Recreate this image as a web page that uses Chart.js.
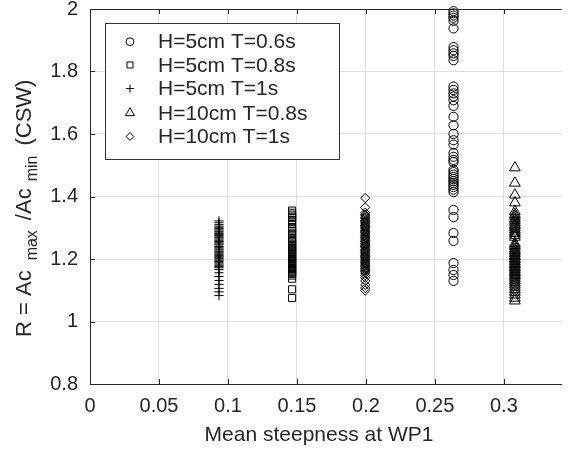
<!DOCTYPE html>
<html><head><meta charset="utf-8">
<script src="https://cdn.jsdelivr.net/npm/chart.js@4/dist/chart.umd.min.js"></script>
<style>html,body{margin:0;padding:0;background:#fff;}#wrap{width:569px;height:450px;}</style>
</head><body><div id="wrap"><canvas id="c" width="569" height="450"></canvas></div>
<script>
const seriesNames = ["H=5cm T=0.6s","H=5cm T=0.8s","H=5cm T=1s","H=10cm T=0.8s","H=10cm T=1s"];
const seriesX = [0.2635, 0.1465, 0.0935, 0.308, 0.1995];
const circlesR = [1.993,1.986,1.979,1.972,1.962,1.938,1.878,1.868,1.858,1.85,1.836,1.752,1.741,1.73,1.72,1.708,1.69,1.655,1.628,1.6,1.58,1.566,1.539,1.527,1.517,1.51,1.485,1.478,1.47,1.463,1.456,1.449,1.443,1.437,1.43,1.422,1.414,1.357,1.334,1.283,1.258,1.187,1.165,1.149,1.13];
const squaresR = [1.355,1.348,1.342,1.336,1.331,1.325,1.32,1.312,1.3,1.295,1.29,1.284,1.279,1.268,1.263,1.258,1.253,1.249,1.244,1.24,1.236,1.231,1.228,1.224,1.22,1.216,1.211,1.208,1.204,1.2,1.196,1.191,1.188,1.184,1.18,1.176,1.171,1.168,1.164,1.16,1.156,1.152,1.147,1.137,1.103,1.075];
const plusR = [1.322,1.316,1.31,1.305,1.3,1.297,1.293,1.289,1.286,1.282,1.279,1.275,1.271,1.268,1.264,1.26,1.256,1.252,1.248,1.245,1.24,1.236,1.232,1.229,1.225,1.222,1.219,1.215,1.212,1.209,1.206,1.203,1.2,1.196,1.192,1.188,1.184,1.18,1.176,1.172,1.166,1.156,1.144,1.131,1.119,1.106,1.095,1.083];
const trianglesR = [1.492,1.443,1.405,1.38,1.352,1.343,1.337,1.33,1.324,1.318,1.311,1.306,1.3,1.294,1.287,1.282,1.276,1.27,1.25,1.244,1.239,1.232,1.227,1.222,1.217,1.211,1.207,1.202,1.197,1.192,1.186,1.182,1.177,1.172,1.167,1.161,1.157,1.152,1.147,1.142,1.136,1.13,1.124,1.117,1.11,1.102,1.094,1.085,1.075,1.066];
const diamondsR = [1.395,1.365,1.348,1.342,1.338,1.333,1.329,1.324,1.32,1.316,1.312,1.307,1.304,1.3,1.296,1.291,1.288,1.284,1.28,1.276,1.271,1.268,1.264,1.26,1.256,1.251,1.248,1.244,1.24,1.236,1.231,1.228,1.224,1.22,1.216,1.211,1.208,1.204,1.2,1.196,1.191,1.188,1.184,1.18,1.176,1.171,1.168,1.164,1.16,1.155,1.148,1.14,1.13,1.117,1.107,1.099];
const xTicks = [0,0.05,0.1,0.15,0.2,0.25,0.3];
const xTickLabels = ["0","0.05","0.1","0.15","0.2","0.25","0.3"];
const yTicks = [0.8,1,1.2,1.4,1.6,1.8,2];
const yTickLabels = ["0.8","1","1.2","1.4","1.6","1.8","2"];
const xTitle = "Mean steepness at WP1";
const yTitleParts = [["R = Ac",0],["max",1],["/Ac",0],["min",1],["(CSW)",0]];

const FONT = '"Liberation Sans", Arial, Helvetica, sans-serif';
const TXT = '#262626';
const styles = [
  {pointStyle:'circle', radius:4.6},
  {pointStyle:'rect', radius:5.0},
  {pointStyle:'cross', radius:4.6},
  {pointStyle:'triangle', radius:6.2},
  {pointStyle:'rectRot', radius:4.6}
];
const allR = [circlesR, squaresR, plusR, trianglesR, diamondsR];
const datasets = allR.map((arr, i) => ({
  label: seriesNames[i],
  data: arr.map(v => ({x: seriesX[i], y: v})),
  pointStyle: styles[i].pointStyle,
  pointRadius: styles[i].radius,
  pointHoverRadius: styles[i].radius,
  borderColor: '#000',
  backgroundColor: 'rgba(0,0,0,0)',
  pointBorderWidth: 1,
  showLine: false,
  clip: false
}));

const decor = {
  id: 'decor',
  afterDraw(chart) {
    const ctx = chart.ctx, a = chart.chartArea;
    const xs = chart.scales.x, ys = chart.scales.y;
    ctx.save();
    ctx.strokeStyle = TXT; ctx.lineWidth = 1;
    ctx.beginPath();
    ctx.moveTo(a.left, Math.round(a.top) + 0.5);
    ctx.lineTo(a.right, Math.round(a.top) + 0.5);
    ctx.stroke();
    const tl = 5;
    ctx.beginPath();
    xTicks.forEach(v => {
      const px = Math.round(xs.getPixelForValue(v)) + 0.5;
      ctx.moveTo(px, a.bottom); ctx.lineTo(px, a.bottom - tl);
      ctx.moveTo(px, a.top); ctx.lineTo(px, a.top + tl);
    });
    yTicks.forEach(v => {
      const py = Math.round(ys.getPixelForValue(v)) + 0.5;
      ctx.moveTo(a.left, py); ctx.lineTo(a.left + tl, py);
    });
    ctx.stroke();
    // x title
    ctx.fillStyle = TXT;
    ctx.font = '21px ' + FONT;
    ctx.textAlign = 'center'; ctx.textBaseline = 'middle';
    ctx.fillText(xTitle, 319, 435);
    // y title (rotated, subscripts)
    ctx.save();
    ctx.translate(31, 337);
    ctx.rotate(-Math.PI / 2);
    ctx.textAlign = 'left'; ctx.textBaseline = 'alphabetic';
    let cx = 0;
    const gap = 10;
    yTitleParts.forEach(([t, sub], k) => {
      ctx.font = (sub ? '16px ' : '22px ') + FONT;
      ctx.fillText(t, cx, sub ? 6 : 0);
      cx += ctx.measureText(t).width + (k === 2 ? 7 : gap);
    });
    ctx.restore();
    // legend
    const L = 105, T = 23, R = 339, B = 159;
    ctx.fillStyle = '#fff';
    ctx.fillRect(L, T, R - L, B - T);
    ctx.strokeStyle = '#333'; ctx.lineWidth = 1;
    ctx.strokeRect(L + 0.5, T + 0.5, R - L, B - T);
    const rows = [41.7, 65, 88.5, 113, 136.5];
    ctx.font = '21px ' + FONT;
    ctx.textAlign = 'left'; ctx.textBaseline = 'middle';
    seriesNames.forEach((n, i) => {
      ctx.strokeStyle = '#000'; ctx.lineWidth = 1;
      ctx.fillStyle = 'rgba(0,0,0,0)';
      Chart.helpers.drawPoint(ctx, {pointStyle: styles[i].pointStyle, radius: styles[i].radius * 0.85, borderWidth: 1}, 130, rows[i]);
      ctx.fillStyle = TXT;
      ctx.fillText(n, 158, rows[i] + 1);
    });
    ctx.restore();
  }
};

new Chart(document.getElementById('c'), {
  type: 'scatter',
  data: {datasets},
  options: {
    responsive: false,
    animation: false,
    devicePixelRatio: 1,
    layout: {padding: {top: 9, left: 0, right: 0, bottom: 0}},
    plugins: {legend: {display: false}, tooltip: {enabled: false}},
    scales: {
      x: {
        type: 'linear', min: 0, max: 0.342,
        afterBuildTicks: s => { s.ticks = xTicks.map(v => ({value: v})); },
        afterFit: s => { s.height = 66; s.paddingLeft = 0; s.paddingRight = 0; },
        ticks: {callback: (v, i) => xTickLabels[i], color: TXT, font: {family: FONT, size: 20}, padding: 10, maxRotation: 0, autoSkip: false},
        grid: {color: '#dedede', drawTicks: false, lineWidth: 1},
        border: {color: TXT, width: 1}
      },
      y: {
        type: 'linear', min: 0.8, max: 2,
        afterBuildTicks: s => { s.ticks = yTicks.map(v => ({value: v})); },
        afterFit: s => { s.width = 90; s.paddingTop = 0; s.paddingBottom = 0; },
        ticks: {callback: (v, i) => yTickLabels[i], color: TXT, font: {family: FONT, size: 20}, padding: 12, autoSkip: false},
        grid: {color: '#dedede', drawTicks: false, lineWidth: 1},
        border: {color: TXT, width: 1}
      }
    }
  },
  plugins: [decor]
});
</script>
</body></html>
